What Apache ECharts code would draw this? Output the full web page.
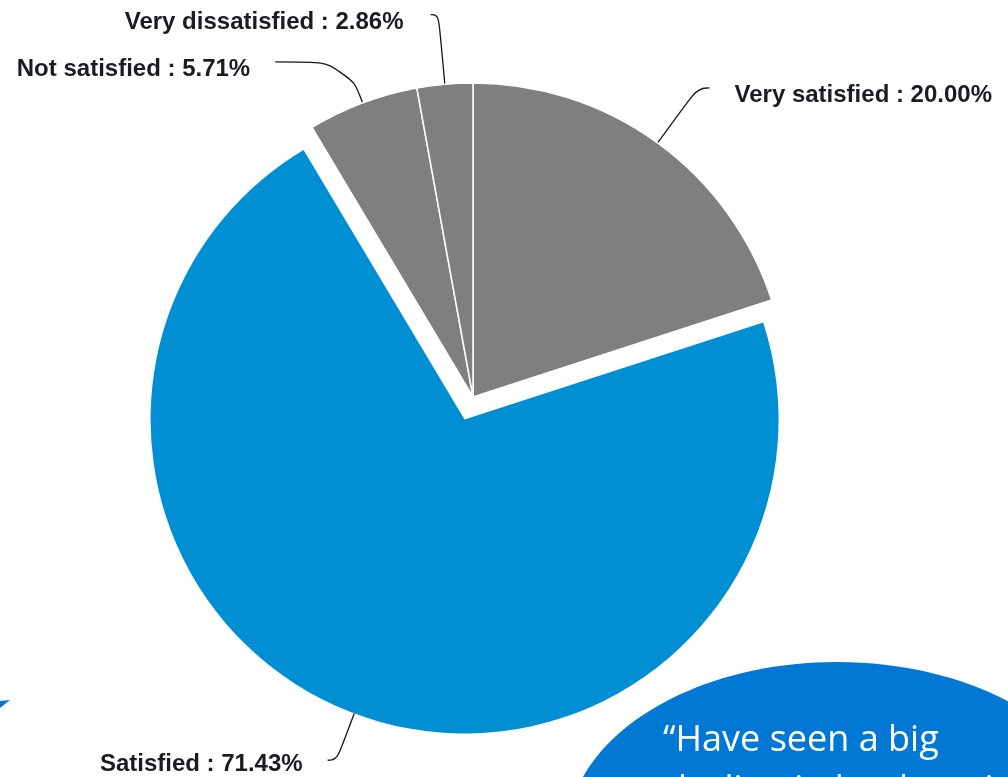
<!DOCTYPE html>
<html>
<head>
<meta charset="utf-8">
<title>Satisfaction</title>
<script src="https://cdn.jsdelivr.net/npm/echarts@6/dist/echarts.min.js"></script>
<style>
  html, body { margin: 0; padding: 0; background: #ffffff; }
  #chart { width: 1008px; height: 777px; }
</style>
</head>
<body>
<div id="chart"></div>
<script>
// Survey answers, clockwise from 12 o'clock
const categories = ['Very satisfied', 'Satisfied', 'Not satisfied', 'Very dissatisfied'];
const shares = [20.00, 71.43, 5.71, 2.86];

// Quote shown in the call-out bubble
const quoteLines = ['\u201CHave seen a big', 'decline in landscaping'];

const GRAY = '#7f7f7f';
const BLUE = '#008fd3';
const BUBBLE = '#0078d4';

// Per-slice leader line geometry
const lineLen = [68, 50, 44, 70];
const lineLen2 = [12, 9, 72, 8];
const labelGap = [25, 25, 25, 27];

const labelFont = {
  fontFamily: '"Liberation Sans", Arial, sans-serif',
  fontWeight: 'bold',
  fontSize: 24,
  color: '#1b1b24'
};

const data = categories.map((name, i) => {
  const isMain = name === 'Satisfied';
  return {
    name: name,
    value: shares[i],
    selected: isMain,
    itemStyle: isMain
      ? { color: BLUE, borderWidth: 0 }
      : { color: GRAY, borderColor: '#ffffff', borderWidth: 1.5 },
    labelLine: { length: lineLen[i], length2: lineLen2[i] },
    label: {
      distanceToLabelLine: labelGap[i],
      rich: {
        t: Object.assign({ padding: isMain ? [9, 0, 0, 0] : [15, 0, 0, 0] }, labelFont)
      }
    }
  };
});

const chart = echarts.init(document.getElementById('chart'), null, { renderer: 'canvas' });

chart.setOption({
  animation: false,
  backgroundColor: '#ffffff',
  series: [{
    type: 'pie',
    center: [473, 397],
    radius: 314,
    startAngle: 90,
    clockwise: true,
    selectedMode: 'single',
    selectedOffset: 24,
    avoidLabelOverlap: false,
    emphasis: { disabled: true },
    select: { itemStyle: { borderWidth: 0 } },
    label: Object.assign({
      show: true,
      position: 'outside',
      formatter: p => '{t|' + p.name + ' : ' + p.value.toFixed(2) + '%}'
    }, labelFont),
    labelLine: {
      show: true,
      smooth: 0.5,
      lineStyle: { color: '#151515', width: 1.3 }
    },
    data: data
  }],
  graphic: [
    {
      type: 'ellipse',
      z: 10,
      shape: { cx: 837, cy: 836, rx: 270, ry: 174 },
      style: { fill: BUBBLE }
    },
    {
      type: 'text',
      z: 11,
      x: 663,
      y: 741,
      style: {
        text: quoteLines[0],
        fill: '#ffffff',
        font: '36px "Open Sans", "Noto Sans", sans-serif',
        textVerticalAlign: 'middle'
      }
    },
    {
      type: 'text',
      z: 11,
      x: 665,
      y: 791,
      style: {
        text: quoteLines[1],
        fill: '#ffffff',
        font: '36px "Open Sans", "Noto Sans", sans-serif',
        textVerticalAlign: 'middle'
      }
    },
    {
      type: 'polygon',
      z: 10,
      shape: { points: [[0, 701], [10, 700], [0, 708]] },
      style: { fill: BUBBLE }
    }
  ]
});
</script>
</body>
</html>
